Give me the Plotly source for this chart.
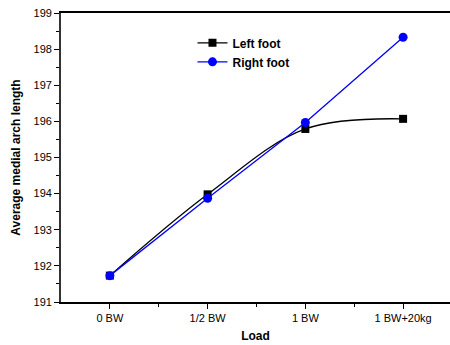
import plotly.graph_objects as go

categories = ["0 BW", "1/2 BW", "1 BW", "1 BW+20kg"]
left_foot = [191.73, 193.98, 195.79, 196.07]
right_foot = [191.73, 193.87, 195.97, 198.33]
y_ticks = [191, 192, 193, 194, 195, 196, 197, 198, 199]

xpos = list(range(len(categories)))

fig = go.Figure()
fig.add_trace(go.Scatter(
    x=xpos, y=left_foot, name="Left foot", mode="lines+markers",
    line=dict(color="black", width=1.3, shape="spline", smoothing=1.0),
    marker=dict(symbol="square", size=8, color="black"),
))
fig.add_trace(go.Scatter(
    x=xpos, y=right_foot, name="Right foot", mode="lines+markers",
    line=dict(color="#0000FF", width=1.3),
    marker=dict(symbol="circle", size=9, color="#0000FF"),
))

fig.update_layout(
    width=450, height=345,
    margin=dict(l=61, r=0, t=13, b=43),
    paper_bgcolor="white", plot_bgcolor="white",
    font=dict(family="Liberation Sans, Arial", size=11, color="black"),
    showlegend=True,
    legend=dict(
        x=0.338, y=0.947, xanchor="left", yanchor="top",
        bgcolor="rgba(0,0,0,0)", borderwidth=0,
        font=dict(family="Liberation Sans, Arial", size=12, color="black", weight="bold"),
        itemwidth=30, tracegroupgap=0,
    ),
    xaxis=dict(
        range=[-0.5, 3.48], tickmode="array", tickvals=xpos, ticktext=categories,
        showgrid=False, zeroline=False,
        showline=True, linecolor="black", linewidth=1.5, mirror=True,
        ticks="outside", ticklen=5, tickwidth=1, tickcolor="black",
        minor=dict(tickvals=[0.5, 1.5, 2.5], ticks="outside", ticklen=3, tickcolor="black", showgrid=False),
        title=dict(text="<b>Load</b>", font=dict(size=12), standoff=9),
        tickfont=dict(size=11),
        automargin=False,
    ),
    yaxis=dict(
        range=[191, 199], tickmode="array", tickvals=y_ticks,
        showgrid=False, zeroline=False,
        showline=True, linecolor="#333333", linewidth=1.8, mirror=False,
        ticks="outside", ticklen=5, tickwidth=1, tickcolor="black",
        minor=dict(dtick=0.5, tick0=191, ticks="outside", ticklen=3, tickcolor="black", showgrid=False),
        title=dict(text="<b>Average medial arch length</b>", font=dict(size=12), standoff=10),
        tickfont=dict(size=11),
        automargin=False,
    ),
)

fig.write_html("out.html", config={"displayModeBar": False},
               post_script="document.body.style.margin='0';")
